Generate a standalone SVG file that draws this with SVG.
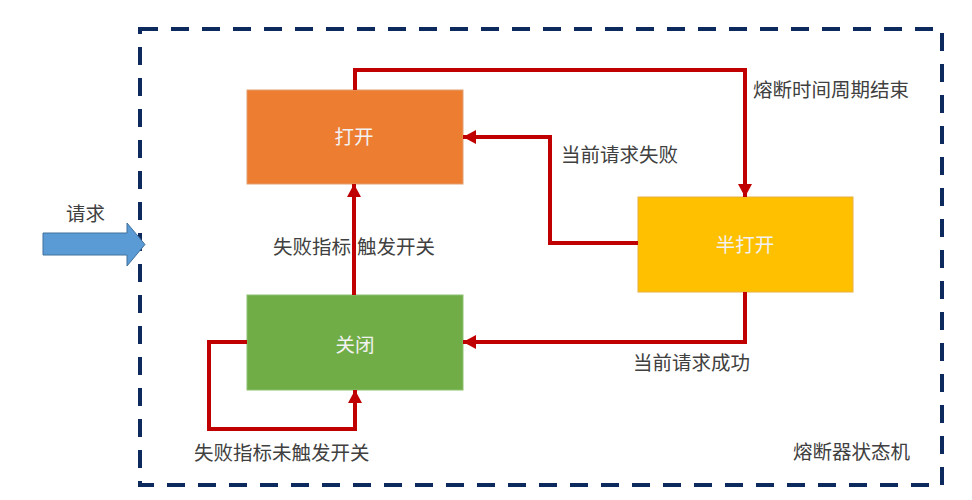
<svg xmlns="http://www.w3.org/2000/svg" width="972" height="500" viewBox="0 0 972 500">
<style>
.lbl{font-family:"Noto Sans CJK SC","Noto Sans",sans-serif;font-size:19.5px;fill:#404040}
.nlbl{font-family:"Noto Sans CJK SC","Noto Sans",sans-serif;font-size:19.5px;fill:#f2f2f2;text-anchor:middle}
.conn{fill:none;stroke:#c00000;stroke-width:4}
</style>
<defs>
<marker id="ah" markerUnits="userSpaceOnUse" markerWidth="14" markerHeight="14" viewBox="0 0 14 14" refX="13" refY="7" orient="auto">
<path d="M0,0 L13,7 L0,14 Z" fill="#c00000"/>
</marker>
</defs>
<rect width="972" height="500" fill="#ffffff"/>
<g id="boundary">
<rect x="140" y="29" width="802" height="456" fill="none" stroke="#0d2a5e" stroke-width="4" stroke-dasharray="18,13"/>
<text class="lbl" x="793" y="459">熔断器状态机</text>
</g>
<g id="request">
<path d="M43,233 H127 V223 L145,244.5 L127,266 V255 H43 Z" fill="#5b9bd5" stroke="#41719c" stroke-width="1"/>
<text class="lbl" x="66" y="221">请求</text>
</g>
<g id="open">
<rect x="247" y="90" width="216" height="94" fill="#ed7d31" stroke="#e0a070" stroke-width="1"/>
<text class="nlbl" x="354" y="144">打开</text>
</g>
<g id="closed">
<rect x="247" y="295" width="216" height="95" fill="#70ad47" stroke="#8cc070" stroke-width="1"/>
<text class="nlbl" x="355" y="352">关闭</text>
</g>
<g id="halfopen">
<rect x="638" y="197" width="215" height="95" fill="#ffc000" stroke="#e8b040" stroke-width="1"/>
<text class="nlbl" x="745" y="252">半打开</text>
</g>
<g id="labels">
<text class="lbl" x="753" y="97">熔断时间周期结束</text>
<text class="lbl" x="561" y="162">当前请求失败</text>
<text class="lbl" x="273" y="254">失败指标<tspan x="357">触发开关</tspan></text>
<text class="lbl" x="633" y="370">当前请求成功</text>
<text class="lbl" x="194" y="460">失败指标未触发开关</text>
</g>
<g id="connectors">
<path class="conn" d="M355,90 V70 H745 V197" marker-end="url(#ah)"/>
<path class="conn" d="M638,243 H550 V137 H463" marker-end="url(#ah)"/>
<path class="conn" d="M354,295 V184" marker-end="url(#ah)"/>
<path class="conn" d="M745,292 V342 H463" marker-end="url(#ah)"/>
<path class="conn" d="M247,342 H209 V429 H355 V390" marker-end="url(#ah)"/>
</g>
</svg>
